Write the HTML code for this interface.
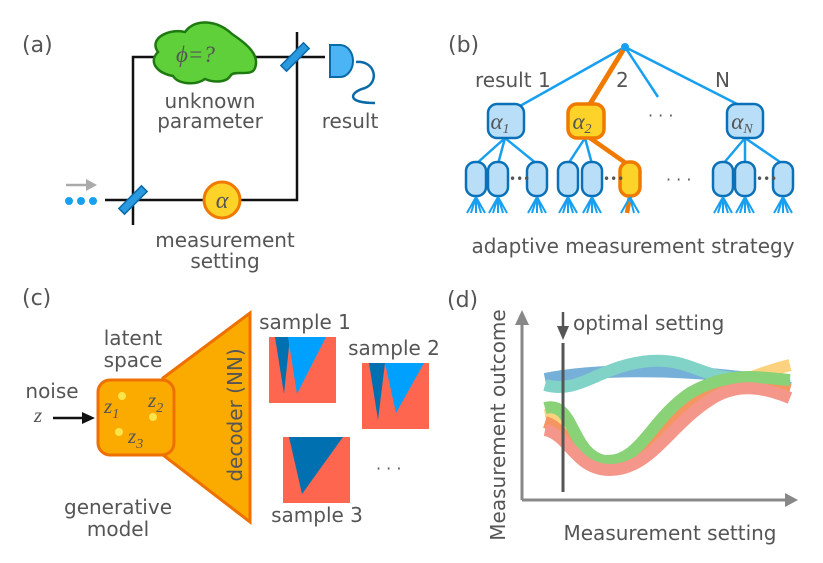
<!DOCTYPE html>
<html><head><meta charset="utf-8"><style>
html,body{margin:0;padding:0;background:#fff;}
svg{display:block;}
text{font-family:"DejaVu Sans","Liberation Sans",sans-serif;fill:#555;}
.s{font-family:"Liberation Serif",serif;font-style:italic;}
</style></head><body>
<svg width="823" height="563" viewBox="0 0 823 563" xmlns="http://www.w3.org/2000/svg">
<!-- (a) -->
<text x="22" y="52" font-size="22" fill="#666">(a)</text>
<path d="M133 225 V57 H160 M255 57 H325 M297 32 V200 H105" fill="none" stroke="#111" stroke-width="2.5"/>
<path d="M158 52 C148 38 170 28 185 32 C195 18 217 20 232 34 C247 44 260 55 255 68 C252 77 236 70 231 75 C226 84 212 82 205 79 C195 86 178 84 173 76 C157 73 148 62 158 52 Z" fill="#5fd03a" stroke="#1e7a10" stroke-width="2.5"/>
<text x="176" y="62" class="s" font-size="23" fill="#555">ϕ=?</text>
<rect x="-4" y="-16" width="8" height="32" fill="#2a9ae0" stroke="#0a6aa8" stroke-width="1.5" transform="translate(295,57) rotate(45)"/>
<rect x="-4" y="-16" width="8" height="32" fill="#2a9ae0" stroke="#0a6aa8" stroke-width="1.5" transform="translate(133,200) rotate(45)"/>
<path d="M330 45 H340 A13 16 0 0 1 340 77 H330 Z" fill="#4ab4f5" stroke="#0a6aa8" stroke-width="2"/>
<path d="M356 62 C375 60 380 82 365 88 C350 92 345 103 375 103" fill="none" stroke="#0a6aa8" stroke-width="2.5"/>
<text x="210" y="108" font-size="20" text-anchor="middle">unknown</text>
<text x="210" y="128" font-size="20" text-anchor="middle">parameter</text>
<text x="350" y="128" font-size="20" text-anchor="middle">result</text>
<circle cx="69" cy="201" r="4" fill="#18a0f0"/><circle cx="81" cy="201" r="4" fill="#18a0f0"/><circle cx="93" cy="201" r="4" fill="#18a0f0"/>
<path d="M66 185 H88" stroke="#aaa" stroke-width="2.5"/><path d="M86 179 L97 185 L86 191 Z" fill="#aaa"/>
<circle cx="222" cy="200" r="18" fill="#fdd32a" stroke="#f07a00" stroke-width="3"/>
<text x="222" y="208" class="s" font-size="24" text-anchor="middle">α</text>
<text x="225" y="247" font-size="20" text-anchor="middle">measurement</text>
<text x="225" y="268" font-size="20" text-anchor="middle">setting</text>

<!-- (b) -->
<text x="448" y="52" font-size="22" fill="#666">(b)</text>
<path d="M625 47 L520 106 M625 47 L658 97 M625 47 L737 104" stroke="#18a0f0" stroke-width="2.5" fill="none"/>
<path d="M625 47 L590 104" stroke="#f07a00" stroke-width="5" fill="none"/>
<circle cx="625" cy="47" r="4" fill="#18a0f0"/>
<text x="475" y="87" font-size="20">result 1</text>
<text x="616" y="87" font-size="20">2</text>
<text x="715" y="87" font-size="20">N</text>
<g stroke="#18a0f0" stroke-width="2.5" fill="none">
<path d="M505 138 L476 164 M505 138 L498 164 M505 138 L537 164"/>
<path d="M585 138 L568 164 M585 138 L592 164"/>
<path d="M745 138 L723 164 M745 138 L745 164 M745 138 L783 164"/>
</g>
<path d="M590 138 L630 166 M630 196 L627 213" stroke="#f07a00" stroke-width="4.5" fill="none"/>
<g fill="#b9dff8" stroke="#0a70b8" stroke-width="2.5">
<rect x="488" y="104" width="36" height="34" rx="9"/>
<rect x="727" y="104" width="36" height="34" rx="9"/>
<rect x="466" y="162" width="20" height="34" rx="9"/>
<rect x="488" y="162" width="20" height="34" rx="9"/>
<rect x="527" y="162" width="20" height="34" rx="9"/>
<rect x="558" y="162" width="20" height="34" rx="9"/>
<rect x="582" y="162" width="20" height="34" rx="9"/>
<rect x="713" y="162" width="20" height="34" rx="9"/>
<rect x="735" y="162" width="20" height="34" rx="9"/>
<rect x="773" y="162" width="20" height="34" rx="9"/>
</g>
<rect x="568" y="104" width="36" height="34" rx="9" fill="#fdd32a" stroke="#f07a00" stroke-width="3.5"/>
<rect x="620" y="162" width="20" height="34" rx="9" fill="#fdd32a" stroke="#f07a00" stroke-width="3.5"/>
<text x="500" y="129" class="s" font-size="23" text-anchor="middle">α<tspan font-size="14" dy="4">1</tspan></text>
<text x="582" y="129" class="s" font-size="23" text-anchor="middle">α<tspan font-size="14" dy="4">2</tspan></text>
<text x="742" y="129" class="s" font-size="23" text-anchor="middle">α<tspan font-size="14" dy="4">N</tspan></text>
<g fill="#555"><text x="509" y="183" font-size="12">•••</text><text x="603" y="183" font-size="12">•••</text><text x="756" y="183" font-size="12">•••</text></g>
<text x="648" y="121" font-size="16">· · ·</text>
<text x="666" y="185" font-size="16">· · ·</text>
<g stroke="#18a0f0" stroke-width="2" fill="none">
<path d="M476 197 V213 M476 197 L467 213 M476 197 L485 213 M476 197 L471 213 M476 197 L481 213"/>
<path d="M498 197 V213 M498 197 L489 213 M498 197 L507 213 M498 197 L493 213 M498 197 L503 213"/>
<path d="M537 197 V213 M537 197 L528 213 M537 197 L546 213 M537 197 L532 213 M537 197 L542 213"/>
<path d="M568 197 V213 M568 197 L559 213 M568 197 L577 213 M568 197 L563 213 M568 197 L573 213"/>
<path d="M592 197 V213 M592 197 L583 213 M592 197 L601 213 M592 197 L587 213 M592 197 L597 213"/>
<path d="M630 197 L621 213 M630 197 L639 213 M630 197 L634 213"/>
<path d="M723 197 V213 M723 197 L714 213 M723 197 L732 213 M723 197 L718 213 M723 197 L728 213"/>
<path d="M745 197 V213 M745 197 L736 213 M745 197 L754 213 M745 197 L740 213 M745 197 L750 213"/>
<path d="M783 197 V213 M783 197 L774 213 M783 197 L792 213 M783 197 L778 213 M783 197 L788 213"/>
</g>
<text x="633" y="253" font-size="20" text-anchor="middle">adaptive measurement strategy</text>

<!-- (c) -->
<text x="22" y="305" font-size="22" fill="#666">(c)</text>
<path d="M163 378 L250 313 L250 522 L163 455 Z" fill="#fbab00" stroke="#ee7000" stroke-width="3"/>
<rect x="98" y="380" width="76" height="75" rx="12" fill="#fbab00" stroke="#ee7000" stroke-width="3"/>
<text transform="translate(242,415) rotate(-90)" font-size="20" text-anchor="middle">decoder (NN)</text>
<circle cx="122" cy="396" r="4" fill="#fde44a"/><circle cx="153" cy="417" r="4" fill="#fde44a"/><circle cx="119" cy="432" r="4" fill="#fde44a"/>
<text x="104" y="413" class="s" font-size="21">z<tspan font-size="14" dy="5">1</tspan></text>
<text x="148" y="407" class="s" font-size="21">z<tspan font-size="14" dy="5">2</tspan></text>
<text x="128" y="443" class="s" font-size="21">z<tspan font-size="14" dy="5">3</tspan></text>
<text x="133" y="345" font-size="20" text-anchor="middle">latent</text>
<text x="133" y="367" font-size="20" text-anchor="middle">space</text>
<text x="52" y="398" font-size="20" text-anchor="middle">noise</text>
<text x="38" y="422" class="s" font-size="21" text-anchor="middle">z</text>
<path d="M53 418 H84" stroke="#111" stroke-width="2.5"/><path d="M82 412 L95 418 L82 424 Z" fill="#111"/>
<text x="118" y="514" font-size="20" text-anchor="middle">generative</text>
<text x="118" y="536" font-size="20" text-anchor="middle">model</text>
<text x="305" y="329" font-size="20" text-anchor="middle">sample 1</text>
<text x="394" y="355" font-size="20" text-anchor="middle">sample 2</text>
<text x="317" y="522" font-size="20" text-anchor="middle">sample 3</text>
<text x="376" y="474" font-size="16">· · ·</text>
<rect x="269" y="337" width="67" height="66" fill="#ff6650"/>
<path d="M275 337 L290 337 L284 394 Z" fill="#0070b0"/>
<path d="M288 337 L326 337 L297 394 Z" fill="#00a0ff"/>
<rect x="362" y="363" width="67" height="66" fill="#ff6650"/>
<path d="M369 363 L385 363 L378 420 Z" fill="#0070b0"/>
<path d="M385 363 L424 363 L396 413 Z" fill="#00a0ff"/>
<rect x="283" y="437" width="67" height="66" fill="#ff6650"/>
<path d="M289 437 L343 437 L302 494 Z" fill="#0070b0"/>

<!-- (d) -->
<text x="447" y="307" font-size="22" fill="#666">(d)</text>
<path d="M522 500 V322 M522 500 H787" stroke="#888" stroke-width="3" fill="none"/>
<path d="M515 325 L522 310 L529 325 Z M785 493 L798 500 L785 507 Z" fill="#888"/>
<text transform="translate(505,425) rotate(-90)" font-size="20" text-anchor="middle">Measurement outcome</text>
<text x="670" y="540" font-size="20" text-anchor="middle">Measurement setting</text>
<g fill="none" stroke-linecap="butt" opacity="0.7">
<path d="M545 379 C600 368 680 370 740 377 C760 380 780 385 790 388" stroke="#3d8fc8" stroke-width="12"/>
<path d="M545 385 C580 395 600 365 650 361 C690 358 700 378 740 378 C770 378 780 385 790 386" stroke="#4cc0b0" stroke-width="12"/>
<path d="M545 415 C575 410 570 460 600 462 C640 465 640 430 680 410 C720 390 750 375 790 365" stroke="#fdc048" stroke-width="12"/>
<path d="M545 422 C570 430 570 462 610 465 C650 465 660 420 700 398 C740 378 770 385 790 390" stroke="#f26a20" stroke-width="12"/>
<path d="M545 408 C575 400 570 455 605 461 C640 463 650 420 690 393 C730 370 760 378 790 380" stroke="#58c040" stroke-width="12"/>
<path d="M545 430 C570 435 575 470 610 470 C650 470 670 425 710 400 C740 380 770 390 790 398" stroke="#f06a5a" stroke-width="12"/>
</g>
<path d="M563 343 V492" stroke="#555" stroke-width="3"/>
<path d="M563 312 V328" stroke="#555" stroke-width="2.5"/><path d="M557 326 L563 340 L569 326 Z" fill="#555"/>
<text x="573" y="330" font-size="20">optimal setting</text>
</svg>
</body></html>
